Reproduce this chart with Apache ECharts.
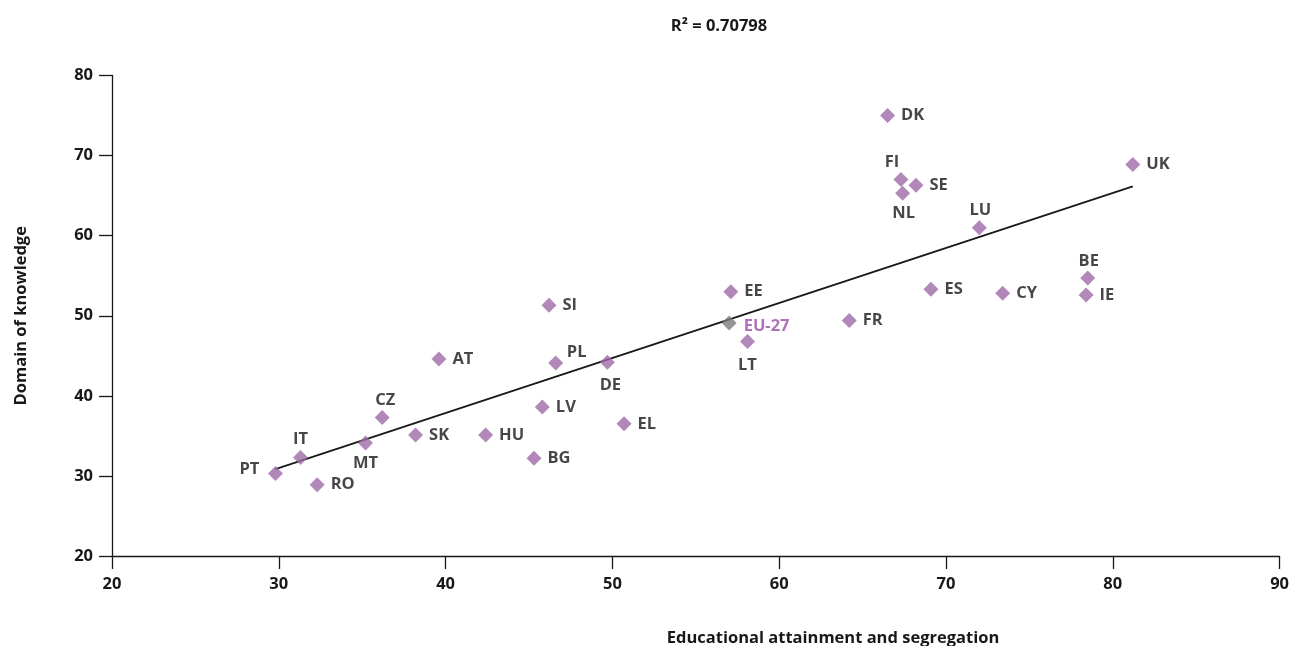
<!DOCTYPE html>
<html>
<head>
<meta charset="utf-8">
<script src="https://cdn.jsdelivr.net/npm/echarts@6/dist/echarts.min.js"></script>
<style>
html,body{margin:0;padding:0;background:#fff;}
#chart{width:1292px;height:646px;}
</style>
</head>
<body>
<div id="chart"></div>
<script>
// ---- Data ----
const countries = ['PT','IT','RO','MT','CZ','SK','HU','BG','LV','EL','AT','SI','PL','DE','EE','LT','DK','FI','SE','NL','UK','LU','ES','CY','BE','IE','FR'];
const attainment = [29.8,31.3,32.3,35.2,36.2,38.2,42.4,45.3,45.8,50.7,39.6,46.2,46.6,49.7,57.1,58.1,66.5,67.3,68.2,67.4,81.2,72.0,69.1,73.4,78.5,78.4,64.2];
const knowledge  = [30.3,32.3,28.9,34.1,37.3,35.1,35.1,32.2,38.6,36.5,44.6,51.3,44.1,44.2,53.0,46.8,75.0,67.0,66.3,65.3,68.9,61.0,53.3,52.8,54.7,52.6,49.4];
const euLabel = 'EU-27';
const euAttainment = 57.0;
const euKnowledge = 49.1;
const rSquaredText = 'R² = 0.70798';
const xTicks = [20,30,40,50,60,70,80,90];
const yTicks = [20,30,40,50,60,70,80];
const xTitle = 'Educational attainment and segregation';
const yTitle = 'Domain of knowledge';

// ---- Label placement (styling only) ----
const labelOffsets = {
  PT:[-26,-4], IT:[0,-18], CZ:[3,-17], MT:[0,20], PL:[21,-11], DE:[3,23],
  LT:[0,24], FI:[-9,-17], NL:[1,20], LU:[1,-17], BE:[1,-17]
};

const textColor = '#1a1718';
const markerColor = '#9d6aa8';
const FONT = 'Open Sans';
const labelFont = {fontFamily:FONT, fontWeight:'bold', fontSize:16.5, color:textColor};

// Linear regression (countries only)
const n = attainment.length;
const mx = attainment.reduce((a,b)=>a+b,0)/n;
const my = knowledge.reduce((a,b)=>a+b,0)/n;
let sxy=0, sxx=0;
for(let i=0;i<n;i++){ sxy+=(attainment[i]-mx)*(knowledge[i]-my); sxx+=(attainment[i]-mx)**2; }
const slope = sxy/sxx, intercept = my - slope*mx;
const xMin = Math.min(...attainment), xMax = Math.max(...attainment);
const trend = [[xMin, intercept+slope*xMin],[xMax, intercept+slope*xMax]];

const scatterData = countries.map((c,i)=>{
  const off = labelOffsets[c];
  const lab = off ? {show:true, position:'inside', offset:off, formatter:c, ...labelFont}
                  : {show:true, position:'right', distance:6, formatter:c, ...labelFont};
  return {value:[attainment[i], knowledge[i]], name:c, label:lab};
});

const chart = echarts.init(document.getElementById('chart'), null, {renderer:'canvas'});
const axisLine = {show:true, onZero:false, lineStyle:{color:textColor, width:1.3}};
const axisTick = {show:true, inside:false, length:13, lineStyle:{color:textColor, width:1.3}};
const titleStyle = {fontFamily:FONT, fontWeight:'bold', fontSize:16.5, color:textColor};
chart.setOption({
  animation:false,
  backgroundColor:'#fff',
  grid:{left:112, right:10, top:75.5, bottom:90, containLabel:false},
  title:[
    {text:rSquaredText, left:714, top:13, textAlign:'center', textStyle:titleStyle},
    {text:xTitle, left:828, top:625, textAlign:'center', textStyle:titleStyle}
  ],
  xAxis:{type:'value', min:xTicks[0], max:xTicks[xTicks.length-1], interval:10,
    axisLine, axisTick, splitLine:{show:false},
    axisLabel:{margin:20, fontFamily:FONT, fontWeight:'bold', fontSize:16.5, color:textColor}},
  yAxis:{type:'value', min:yTicks[0], max:yTicks[yTicks.length-1], interval:10,
    axisLine, axisTick, splitLine:{show:false},
    name:yTitle, nameLocation:'middle', nameGap:82, nameRotate:90,
    nameTextStyle:titleStyle,
    axisLabel:{margin:19, fontFamily:FONT, fontWeight:'bold', fontSize:16.5, color:textColor}},
  series:[
    {type:'line', data:trend, symbol:'none', silent:true, z:1,
     lineStyle:{color:textColor, width:1.8}},
    {type:'scatter', symbol:'diamond', symbolSize:15, z:3,
     itemStyle:{color:markerColor}, data:scatterData},
    {type:'scatter', symbol:'diamond', symbolSize:15, z:4,
     itemStyle:{color:'#7b7b7d'},
     data:[{value:[euAttainment, euKnowledge], name:euLabel,
       label:{show:true, position:'right', distance:7, offset:[0,3], formatter:euLabel,
         fontFamily:FONT, fontWeight:'bold', fontSize:16.5, color:'#9a4fa8'}}]}
  ]
});
</script>
</body>
</html>
